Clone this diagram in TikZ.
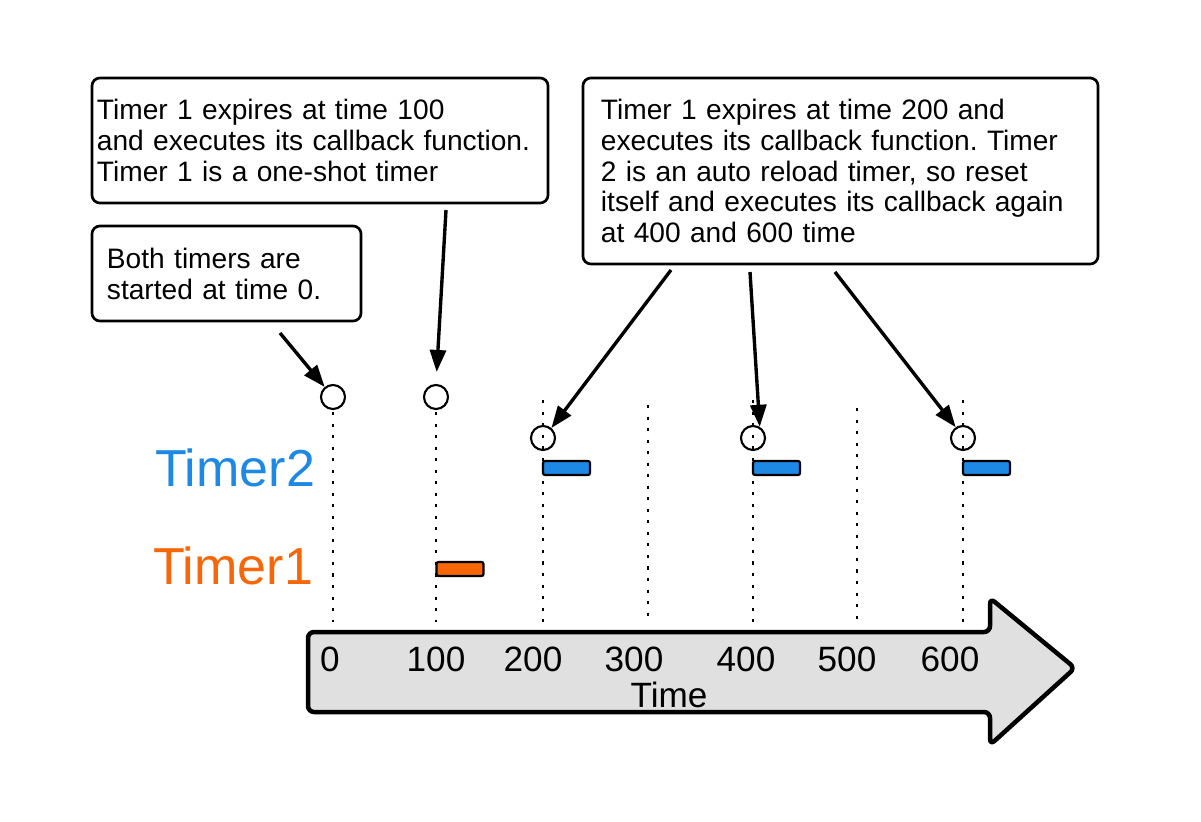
\documentclass[tikz,border=0pt]{standalone}
\usepackage{fontspec}
\setmainfont{Liberation Sans}
\usepackage{tikz}
\usetikzlibrary{arrows.meta}

\definecolor{timerblue}{HTML}{1E88E5}
\definecolor{timerorange}{HTML}{F76707}
\definecolor{axisgray}{HTML}{E0E0E0}

\frenchspacing

\begin{document}
\begin{tikzpicture}[
        x=0.025cm,y=-0.025cm,
        note/.style={draw,line width=1.9pt,rounded corners=0.2cm,fill=white,align=left,inner ysep=0pt,font=\fontsize{20}{22}\selectfont},
        tick/.style={draw,circle,line width=1.5pt,minimum size=0.6cm,inner sep=0pt},
        pointer/.style={-{Triangle[length=5.5mm,width=4mm]},line width=2.4pt},
        guide/.style={line width=2pt,dash pattern=on 2.2pt off 6pt},
        bar/.style={draw,line width=1.6pt,rounded corners=1.5pt,minimum width=1.175cm,minimum height=0.35cm,inner sep=0pt},
        timerlabel/.style={font=\fontsize{37}{40}\selectfont},
        axislabel/.style={font=\fontsize{25}{27}\selectfont}
    ]

    \useasboundingbox (0,0) rectangle (1201,821);

    \node[note,minimum height=2.375cm,inner xsep=0.375cm,text width=5.975cm] (start) at (226.5,273.5) {Both timers are\\started at time 0.};
    \node[note,minimum height=3.125cm,inner xsep=0.125cm,text width=11.15cm] (oneshot) at (320,140.5) {Timer 1 expires at time 100\\and executes its callback function.\\Timer 1 is a one-shot timer};
    \node[note,minimum height=4.65cm,inner xsep=0.45cm,text width=11.975cm] (reload) at (840.5,171) {Timer 1 expires at time 200 and\\executes its callback function. Timer\\2 is an auto reload timer, so reset\\itself and executes its callback again\\at 400 and 600 time};

    \draw[guide] (333,412) -- (333,622);
    \draw[guide] (436,412) -- (436,622);
    \draw[guide] (543,400) -- (543,622);
    \draw[guide] (648,405) -- (648,622);
    \draw[guide] (753,400) -- (753,622);
    \draw[guide] (857,408) -- (857,622);
    \draw[guide] (963,400) -- (963,626);

    \node[tick] (c0) at (333,397) {};
    \node[tick] (c100) at (436,397) {};
    \node[tick] (c200) at (543,438) {};
    \node[tick] (c400) at (753,438) {};
    \node[tick] (c600) at (963,438) {};

    \coordinate (s0) at (280,333);
    \coordinate (s100) at (446,210);
    \coordinate (s200) at (671,270);
    \coordinate (s400) at (750,272);
    \coordinate (s600) at (835,272);

    \draw[pointer] (s0) -- (c0);
    \draw[pointer,shorten >=0.3cm] (s100) -- (c100.north);
    \draw[pointer] (s200) -- (c200.50);
    \draw[pointer] (s400) -- (c400.59);
    \draw[pointer] (s600) -- (c600.124);

    \node[bar,fill=timerblue] (t2a) at (566.5,468) {};
    \node[bar,fill=timerblue] (t2b) at (776.5,468) {};
    \node[bar,fill=timerblue] (t2c) at (986.5,468) {};
    \node[bar,fill=timerorange] (t1a) at (460,569) {};

    \node[timerlabel,text=timerblue] (timer2) at (235,468) {Timer2};
    \node[timerlabel,text=timerorange] (timer1) at (233,566) {Timer1};

    \draw[line width=3.2pt,fill=axisgray,rounded corners=0.15cm,line join=round]
        (308,632) -- (990,632) -- (990,598) -- (1075,668) -- (990,745) -- (990,712) -- (308,712) -- cycle;

    \node[axislabel] (l0) at (330,659) {0};
    \node[axislabel] (l100) at (436,659) {100};
    \node[axislabel] (l200) at (533,659) {200};
    \node[axislabel] (l300) at (634,659) {300};
    \node[axislabel] (l400) at (746,659) {400};
    \node[axislabel] (l500) at (847,659) {500};
    \node[axislabel] (l600) at (950,659) {600};
    \node[axislabel] (time) at (669,695) {Time};

    \end{tikzpicture}
\end{document}
